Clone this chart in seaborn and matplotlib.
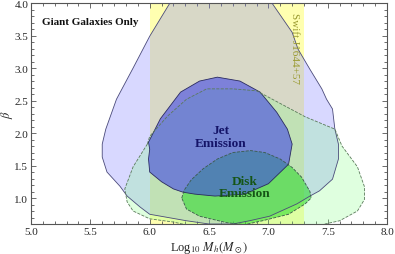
import numpy as np
import matplotlib
matplotlib.use("Agg")
import matplotlib.pyplot as plt
from matplotlib.ticker import MultipleLocator, FormatStrFormatter
import seaborn as sns

# contour outlines (log10 Mh, beta)
jet_outer_x = [6.19, 6.17, 6.00, 5.86, 5.72, 5.63, 5.60, 5.60, 5.64, 5.75, 5.81, 5.92, 6.00, 6.31,
               6.50, 6.70, 6.84, 7.01, 7.24, 7.35, 7.43, 7.54, 7.59, 7.59, 7.56, 7.54, 7.49, 7.45,
               7.35, 7.25, 7.20, 7.03, 6.98]
jet_outer_y = [4.20, 4.00, 3.49, 3.00, 2.52, 2.06, 1.83, 1.63, 1.40, 1.18, 1.03, 0.86, 0.75, 0.65,
               0.60, 0.60, 0.65, 0.72, 0.91, 1.03, 1.11, 1.29, 1.60, 1.83, 2.06, 2.37, 2.52, 2.68,
               2.98, 3.29, 3.55, 4.00, 4.20]

jet_inner_x = [5.99, 6.09, 6.26, 6.42, 6.57, 6.76, 6.93, 7.07, 7.16, 7.20, 7.17, 7.00, 6.80,
               6.55, 6.38, 6.28, 6.20, 6.10, 6.00, 5.99, 6.00]
jet_inner_y = [1.86, 2.22, 2.63, 2.80, 2.86, 2.80, 2.63, 2.32, 2.06, 1.83, 1.52, 1.22, 1.06,
               1.03, 1.06, 1.09, 1.14, 1.25, 1.40, 1.60, 1.75]

disk_outer_x = [5.98, 6.00, 6.15, 6.31, 6.48, 6.70, 6.90, 7.31, 7.56, 7.62, 7.75, 7.81, 7.81,
                7.75, 7.60, 7.35, 6.95, 6.40, 6.20, 6.00, 5.86, 5.81, 5.79, 5.86]
disk_outer_y = [1.83, 1.95, 2.26, 2.52, 2.68, 2.68, 2.65, 2.25, 2.06, 1.80, 1.48, 1.17, 0.98,
                0.80, 0.65, 0.55, 0.50, 0.55, 0.63, 0.68, 0.80, 0.94, 1.14, 1.48]

disk_inner_x = [6.27, 6.29, 6.35, 6.45, 6.57, 6.70, 6.85, 6.97, 7.10, 7.20, 7.28, 7.35, 7.36,
                7.31, 7.17, 6.95, 6.80, 6.65, 6.42, 6.31]
disk_inner_y = [1.00, 1.12, 1.28, 1.45, 1.60, 1.70, 1.73, 1.70, 1.60, 1.47, 1.32, 1.10, 1.00,
                0.91, 0.75, 0.65, 0.59, 0.62, 0.72, 0.83]

swift_band = [6.0, 7.3]


def closed(xs, ys):
    return list(xs) + [xs[0]], list(ys) + [ys[0]]


sns.set_style("ticks")
plt.rcParams["font.family"] = ["Liberation Serif", "DejaVu Serif"]
plt.rcParams["mathtext.fontset"] = "stix"

fig = plt.figure(figsize=(3.95, 2.55), dpi=100)
ax = fig.add_axes([0.0785, 0.1176, 0.9015, 0.8664])

ax.axvspan(swift_band[0], swift_band[1], color="#ffffb0", lw=0, zorder=0)

ax.fill(jet_outer_x, jet_outer_y, color=(0.5, 0.5, 1.0), alpha=0.3, lw=0, zorder=1)
ax.fill(disk_outer_x, disk_outer_y, color=(0.5, 1.0, 0.5), alpha=0.25, lw=0, zorder=2)
ax.fill(disk_inner_x, disk_inner_y, color=(0.15, 0.85, 0.15), alpha=0.55, lw=0, zorder=3)
ax.fill(jet_inner_x, jet_inner_y, color=(0.25, 0.28, 0.9), alpha=0.6, lw=0, zorder=4)

for xs, ys, col, ls in [(jet_outer_x, jet_outer_y, "#4a4a7a", "-"),
                        (jet_inner_x, jet_inner_y, "#2a2a60", "-"),
                        (disk_outer_x, disk_outer_y, "#5a7a5a", "--"),
                        (disk_inner_x, disk_inner_y, "#3a5a4a", "--")]:
    cx, cy = closed(xs, ys)
    sns.lineplot(x=cx, y=cy, sort=False, estimator=None, ax=ax, color=col,
                 lw=0.6, linestyle=ls, zorder=5)

ax.text(5.09, 3.71, "Giant Galaxies Only", fontsize=8, fontweight="bold",
        ha="left", va="center", color="#111111")
ax.text(6.60, 1.95, "Jet\nEmission", fontsize=9.5, fontweight="bold", ha="center",
        va="center", color="#141468", linespacing=1.1, zorder=6)
ax.text(6.80, 1.17, "Disk\nEmission", fontsize=9.5, fontweight="bold", ha="center",
        va="center", color="#155515", linespacing=1.1, zorder=6)
ax.text(7.22, 3.32, "Swift J1644+57", fontsize=8, rotation=-90, ha="center",
        va="center", color="#9a9a30", zorder=6)

ax.set_xlim(5.0, 8.0)
ax.set_ylim(0.6, 4.0)
ax.xaxis.set_major_locator(MultipleLocator(0.5))
ax.xaxis.set_minor_locator(MultipleLocator(0.1))
ax.yaxis.set_minor_locator(MultipleLocator(0.1))
ax.set_yticks([1.0, 1.5, 2.0, 2.5, 3.0, 3.5, 4.0])
ax.xaxis.set_major_formatter(FormatStrFormatter("%.1f"))
ax.yaxis.set_major_formatter(FormatStrFormatter("%.1f"))
ax.tick_params(which="both", direction="in", top=True, right=True, labelsize=8,
               color="#555555", width=0.6, pad=2)
ax.tick_params(which="major", length=3.5)
ax.tick_params(which="minor", length=2)
for sp in ax.spines.values():
    sp.set_color("#555555")
    sp.set_linewidth(0.8)

ax.set_xlabel(r"Log$_{10}$ $M_h(M_\odot)$", fontsize=9, labelpad=2)
ax.set_ylabel(r"$\beta$", fontsize=9)
ax.yaxis.set_label_coords(-0.045, 0.5)

fig.savefig("out.png", dpi=100)
